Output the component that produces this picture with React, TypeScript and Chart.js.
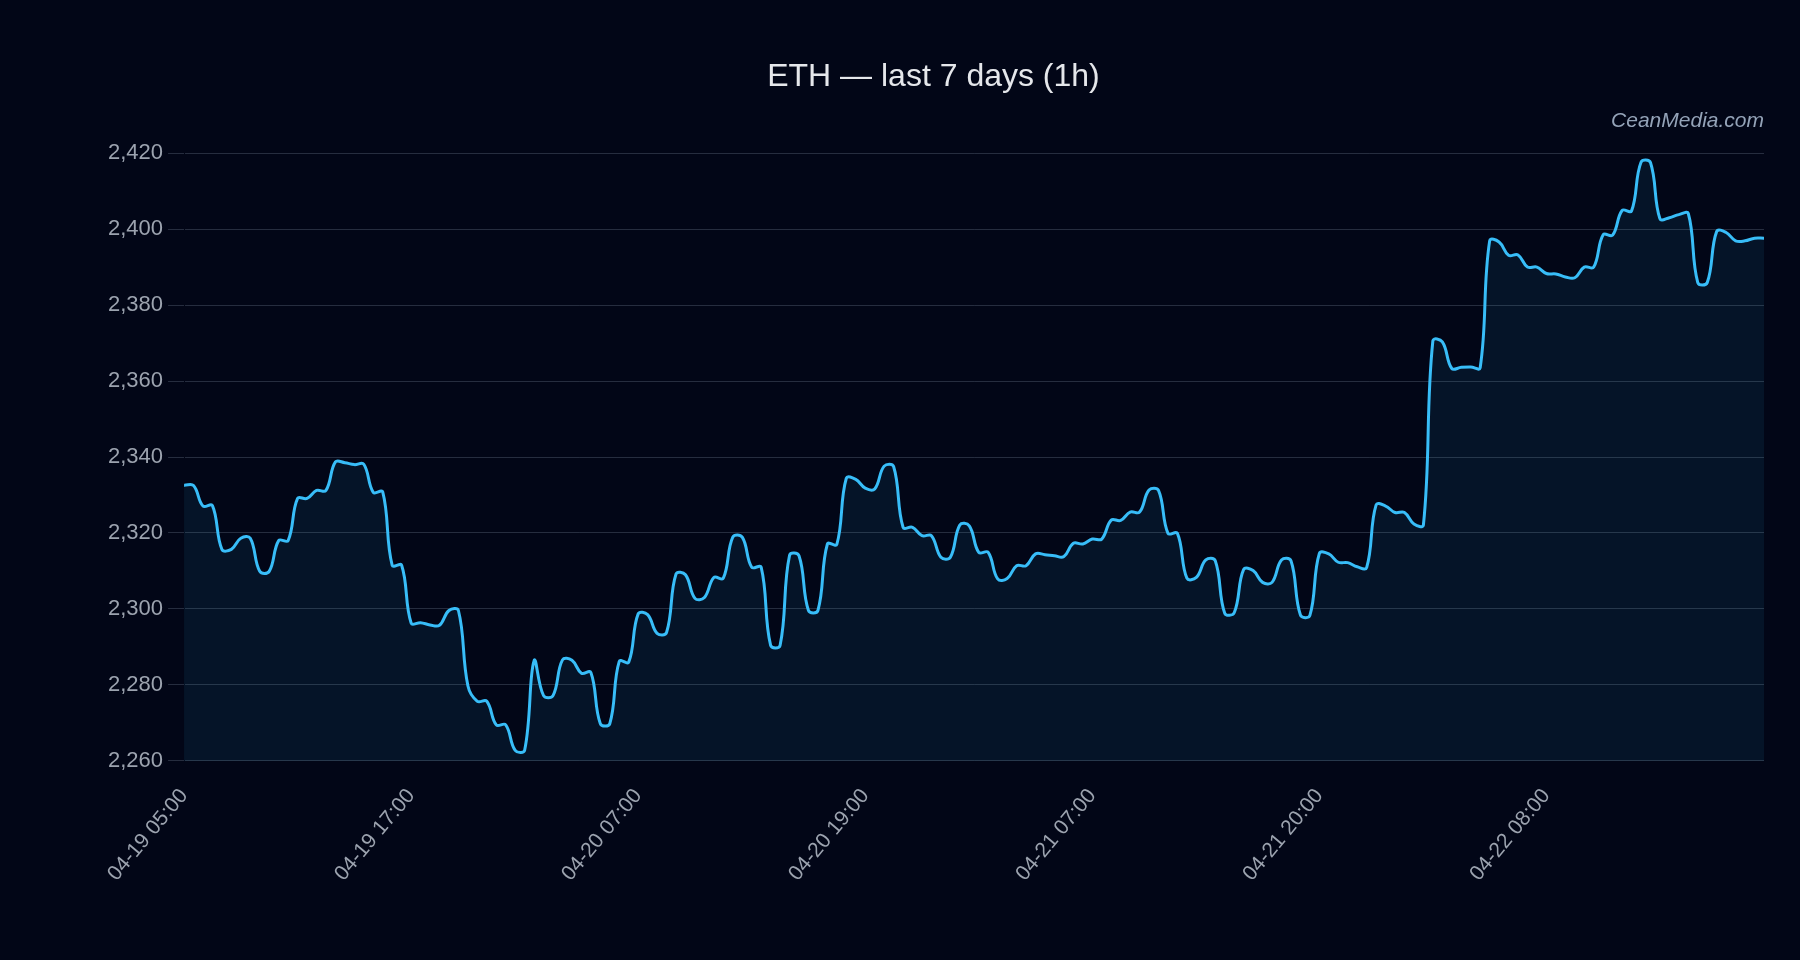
import React, { useEffect, useRef } from 'react';
import { Chart, registerables } from 'chart.js';

Chart.register(...registerables);

const TITLE = 'ETH — last 7 days (1h)';
const WATERMARK = 'CeanMedia.com';
const TICK_LABELS = ['04-19 05:00', '04-19 17:00', '04-20 07:00', '04-20 19:00', '04-21 07:00', '04-21 20:00', '04-22 08:00'];
const TICK_EVERY = 24;
const Y_MIN = 2260;
const Y_MAX = 2420;
const Y_STEP = 20;

const PRICES = [
  2332.6, 2332.5, 2327.1, 2327.2, 2315.7, 2315.7, 2318.6, 2318.6, 2309.9, 2309.9,
  2318.0, 2318.0, 2329.1, 2329.1, 2331.2, 2331.2, 2338.7, 2338.5, 2338.0, 2338.1,
  2330.7, 2330.8, 2311.5, 2311.5, 2296.3, 2296.4, 2295.8, 2295.7, 2299.6, 2299.6,
  2279.8, 2275.7, 2275.7, 2269.5, 2269.5, 2262.8, 2262.8, 2286.4, 2277.2, 2277.2,
  2286.6, 2286.5, 2283.1, 2283.3, 2269.8, 2269.8, 2286.2, 2286.0, 2298.7, 2298.5,
  2293.6, 2293.8, 2309.2, 2309.0, 2302.8, 2303.0, 2308.3, 2308.1, 2318.9, 2318.9,
  2311.0, 2311.0, 2290.4, 2290.4, 2314.1, 2314.0, 2299.6, 2299.6, 2317.1, 2317.0,
  2334.4, 2334.1, 2331.8, 2331.6, 2337.6, 2337.5, 2321.5, 2321.5, 2319.3, 2319.3,
  2313.6, 2313.6, 2322.1, 2321.9, 2314.9, 2314.9, 2307.9, 2308.0, 2311.4, 2311.4,
  2314.5, 2314.3, 2314.0, 2313.8, 2317.3, 2317.1, 2318.4, 2318.4, 2323.4, 2323.3,
  2325.5, 2325.5, 2331.3, 2331.2, 2319.9, 2319.9, 2308.1, 2308.3, 2312.9, 2312.7,
  2298.9, 2299.0, 2310.4, 2310.1, 2307.0, 2307.0, 2312.9, 2312.7, 2298.4, 2298.3,
  2314.6, 2314.5, 2312.3, 2312.2, 2311.1, 2310.9, 2327.4, 2327.1, 2325.4, 2325.4,
  2322.4, 2322.1, 2370.6, 2370.3, 2363.3, 2363.6, 2363.7, 2363.5, 2396.9, 2396.6,
  2393.1, 2393.2, 2390.0, 2390.0, 2388.3, 2388.2, 2387.4, 2387.2, 2390.0, 2390.0,
  2398.5, 2398.4, 2404.9, 2404.8, 2417.6, 2417.5, 2402.7, 2403.0, 2403.8, 2404.1,
  2385.9, 2385.9, 2399.4, 2399.1, 2396.9, 2396.9, 2397.6, 2397.6,
];

const CATEGORIES = PRICES.map((_, i) => (i % TICK_EVERY === 0 ? TICK_LABELS[i / TICK_EVERY] ?? '' : ''));

const FONT = "'Liberation Sans', Arial, Helvetica, sans-serif";
const BG = '#020617';

export default function App() {
  const ref = useRef<HTMLCanvasElement | null>(null);

  useEffect(() => {
    document.body.style.backgroundColor = BG;
    const canvas = ref.current;
    if (!canvas) return;
    const chart = new Chart(canvas, {
      type: 'line',
      data: {
        labels: CATEGORIES,
        datasets: [
          {
            label: 'ETH',
            data: PRICES,
            borderColor: '#38bdf8',
            borderWidth: 3,
            backgroundColor: 'rgba(56,189,248,0.08)',
            fill: 'start',
            pointRadius: 0,
            tension: 0.4,
          },
        ],
      },
      options: {
        animation: false,
        responsive: false,
        layout: { padding: { left: 95, right: 28, top: 26.5, bottom: 59 } },
        plugins: {
          legend: { display: false },
          tooltip: { enabled: false },
          title: {
            display: true,
            text: TITLE,
            color: '#e5e7eb',
            font: { family: FONT, size: 32, weight: 'normal' },
            padding: { top: 23, bottom: 6 },
          },
          subtitle: {
            display: true,
            text: WATERMARK,
            align: 'end',
            color: '#94a3b8',
            font: { family: FONT, size: 21, style: 'italic', weight: 'normal' },
            padding: { top: 6.5, bottom: 19.5 },
          },
        },
        scales: {
          x: {
            grid: { display: false, tickLength: 16 },
            border: { display: false },
            ticks: {
              autoSkip: false,
              maxRotation: 50,
              minRotation: 50,
              padding: 7,
              color: '#9ca3af',
              font: { family: FONT, size: 21 },
            },
          },
          y: {
            min: Y_MIN,
            max: Y_MAX,
            grid: { color: 'rgba(148,163,184,0.25)', tickLength: 16 },
            border: { color: BG },
            ticks: {
              stepSize: Y_STEP,
              padding: 5,
              color: '#9ca3af',
              font: { family: FONT, size: 22 },
            },
          },
        },
      },
    });
    return () => chart.destroy();
  }, []);

  return (
    <div style={{ width: 1784, height: 944 }}>
      <canvas ref={ref} width={1784} height={944} />
    </div>
  );
}
